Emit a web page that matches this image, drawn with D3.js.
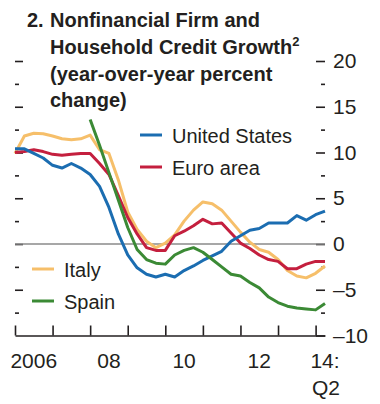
<!DOCTYPE html>
<html>
<head>
<meta charset="utf-8">
<script src="https://cdn.jsdelivr.net/npm/d3@7"></script>
<style>
  body { margin: 0; background: #fff; }
  text { font-family: "Liberation Sans", Arial, sans-serif; fill: #231f20; }
</style>
</head>
<body>
<script>
// quarterly, 2006:Q1 .. 2014:Q2
var quarters = d3.range(34).map(function (i) { return 2006 + i / 4; });

var unitedStates = [10.4, 10.4, 9.9, 9.4, 8.6, 8.3, 8.8, 8.3, 7.6, 6.3, 4.0, 1.1,
  -1.2, -2.6, -3.3, -3.6, -3.3, -3.6, -2.9, -2.4, -1.8, -1.3, -0.8, 0.3,
  0.9, 1.5, 1.7, 2.3, 2.3, 2.3, 3.1, 2.6, 3.2, 3.6];
var euroArea = [10.0, 10.1, 10.3, 10.1, 9.8, 9.7, 9.8, 9.9, 9.9, 8.8, 7.6, 5.3,
  2.9, 1.1, -0.4, -0.7, -0.7, 0.9, 1.4, 2.0, 2.7, 2.2, 2.3, 1.2,
  0.1, -0.5, -1.2, -1.7, -1.9, -2.7, -2.7, -2.2, -1.9, -1.9];
var italy = [9.9, 11.8, 12.1, 12.05, 11.8, 11.5, 11.4, 11.5, 11.9, 10.3, 9.9, 7.0,
  3.5, 1.6, 0.3, -0.4, 0.1, 1.0, 2.5, 3.7, 4.6, 4.4, 3.7, 2.5,
  1.3, 0.2, -0.6, -0.9, -1.7, -2.9, -3.5, -3.7, -3.2, -2.4];
var spain = [null, null, null, null, null, null, null, null, 13.6, 10.8, 7.8, 4.8,
  1.8, -0.6, -1.7, -2.1, -2.2, -1.2, -0.7, -0.4, -0.9, -1.7, -2.5, -3.3,
  -3.5, -4.2, -4.8, -5.8, -6.4, -6.8, -7.0, -7.1, -7.2, -6.5];

var yMajor = [-10, -5, 0, 5, 10, 15, 20];
var yMinor = [-7.5, -2.5, 2.5, 7.5, 12.5, 17.5];
var yearTicks = [2006, 2007, 2008, 2009, 2010, 2011, 2012, 2013, 2014];
var yearLabels = ['2006', '08', '10', '12', '14:'];
var yearLabelAt = [2006.5, 2008.5, 2010.5, 2012.5, 2014.25];

var svg = d3.select('body').append('svg')
  .attr('width', 380)
  .attr('height', 404);

var x = d3.scaleLinear().domain([2006, 2014.25]).range([15, 325]);
var y = d3.scaleLinear().domain([-10, 20]).range([335.5, 61]);

// title
var title = svg.append('g').attr('font-weight', 'bold').attr('font-size', 20);
title.append('text').attr('x', 27).attr('y', 27).text('2.');
title.append('text').attr('x', 50).attr('y', 27).text('Nonfinancial Firm and');
var t2 = title.append('text').attr('x', 50).attr('y', 54).text('Household Credit Growth');
t2.append('tspan').attr('font-size', 13).attr('dy', -8).text('2');
title.append('text').attr('x', 50).attr('y', 81).text('(year-over-year percent');
title.append('text').attr('x', 50).attr('y', 107).text('change)');

// y ticks, right and left
var fmt = function (v) { return v < 0 ? '\u2013' + Math.abs(v) : v; };

svg.append('g')
  .attr('transform', 'translate(325,0)')
  .call(d3.axisRight(y).tickValues(yMajor).tickSize(-9).tickPadding(8).tickFormat(fmt))
  .call(function (g) {
    g.select('.domain').remove();
    g.selectAll('text').attr('font-size', 21).attr('font-family', null);
  });
svg.append('g')
  .attr('transform', 'translate(325,0)')
  .call(d3.axisRight(y).tickValues(yMinor).tickSize(-4).tickFormat(''))
  .call(function (g) { g.select('.domain').remove(); });

svg.append('g')
  .attr('transform', 'translate(15,0)')
  .call(d3.axisLeft(y).tickValues(yMajor.filter(function (v) { return v > -10; })).tickSize(-8).tickFormat(''))
  .call(function (g) { g.select('.domain').remove(); });
svg.append('g')
  .attr('transform', 'translate(15,0)')
  .call(d3.axisLeft(y).tickValues(yMinor).tickSize(-4).tickFormat(''))
  .call(function (g) { g.select('.domain').remove(); });

svg.selectAll('.tick line').attr('stroke', '#231f20').attr('stroke-width', 1.6);

// zero line
svg.append('line')
  .attr('x1', x(2006)).attr('x2', x(2014.25))
  .attr('y1', y(0)).attr('y2', y(0))
  .attr('stroke', '#8a8a8a')
  .attr('stroke-width', 1.6);

// x axis
svg.append('g')
  .attr('transform', 'translate(0,' + y(-10) + ')')
  .call(d3.axisBottom(x).tickValues(yearTicks).tickSize(-10).tickSizeOuter(0).tickFormat(''))
  .call(function (g) {
    g.select('.domain').attr('stroke', '#231f20').attr('stroke-width', 1.6);
    g.selectAll('.tick line').attr('stroke', '#231f20').attr('stroke-width', 1.6);
  });

svg.append('g').selectAll('text')
  .data(yearLabels)
  .enter().append('text')
  .attr('x', function (d, i) { return x(yearLabelAt[i]); })
  .attr('y', 368)
  .attr('text-anchor', 'middle')
  .attr('font-size', 21)
  .text(function (d) { return d; });
svg.append('text')
  .attr('x', x(2014.25) + 1)
  .attr('y', 395)
  .attr('text-anchor', 'middle')
  .attr('font-size', 21)
  .text('Q2');

// series
var series = [
  { name: 'Italy', values: italy, color: '#f6bf6a', lx: 32, ly: 269 },
  { name: 'Euro area', values: euroArea, color: '#c41f3e', lx: 140, ly: 167 },
  { name: 'United States', values: unitedStates, color: '#1b6db1', lx: 140, ly: 135 },
  { name: 'Spain', values: spain, color: '#3b8a35', lx: 32, ly: 301 }
];

var line = d3.line()
  .defined(function (d) { return d != null; })
  .x(function (d, i) { return x(quarters[i]); })
  .y(function (d) { return y(d); });

svg.append('g').selectAll('path')
  .data(series)
  .enter().append('path')
  .attr('d', function (s) { return line(s.values); })
  .attr('fill', 'none')
  .attr('stroke', function (s) { return s.color; })
  .attr('stroke-width', 3)
  .attr('stroke-linejoin', 'round');

// legend
var leg = svg.append('g').selectAll('g')
  .data(series)
  .enter().append('g')
  .attr('transform', function (s) { return 'translate(' + s.lx + ',' + s.ly + ')'; });
leg.append('line')
  .attr('x1', 0).attr('x2', 22)
  .attr('stroke', function (s) { return s.color; })
  .attr('stroke-width', 3);
leg.append('text')
  .attr('x', 32)
  .attr('y', 8)
  .attr('font-size', 20)
  .text(function (s) { return s.name; });
</script>
</body>
</html>
